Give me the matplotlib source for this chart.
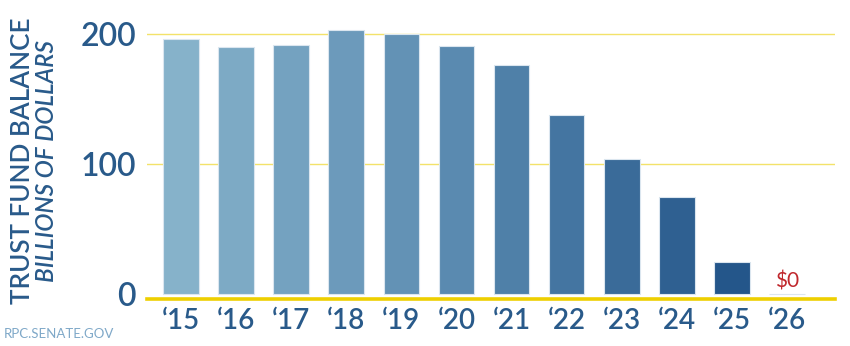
import matplotlib.pyplot as plt
import numpy as np
from matplotlib.colors import LinearSegmentedColormap

# 数据
years = ['\u201815', '\u201816', '\u201817', '\u201818', '\u201819', '\u201820',
         '\u201821', '\u201822', '\u201823', '\u201824', '\u201825', '\u201826']
balance = [196, 190, 191.5, 203, 200, 191, 176, 138, 104, 75, 24.5, 0]
y_ticks = [0, 100, 200]

text_blue = '#295a8a'
plt.rcParams['font.family'] = ['Lato', 'DejaVu Sans']

fig = plt.figure(figsize=(8.5, 3.46), dpi=100)
ax = fig.add_axes([0.173, 0.135, 0.809, 0.823])

cmap = LinearSegmentedColormap.from_list('rpc', ['#86b2ca', '#5a8ab0', '#24568a'])
x = np.arange(len(years))
colors = [cmap(i / (len(years) - 2)) for i in range(len(years))]
ax.bar(x, balance, width=0.65, color=colors, edgecolor='#dbe6ef', linewidth=0.8, zorder=3)

ax.set_xlim(-0.62, 11.87)
ax.set_ylim(-4, 215)

# 网格线和底线
for v in y_ticks[1:]:
    ax.axhline(v, color='#f3e26a', linewidth=1, zorder=1)
ax.axhline(-4, color='#eecf00', linewidth=2.6, zorder=4, clip_on=False)

ax.set_yticks(y_ticks)
ax.set_yticklabels([str(v) for v in y_ticks], fontsize=23, color=text_blue, fontweight='semibold')
ax.set_xticks(x)
ax.set_xticklabels(years, fontsize=20, color=text_blue, fontweight='semibold')
ax.tick_params(axis='both', length=0)
ax.tick_params(axis='y', pad=8)
ax.tick_params(axis='x', pad=6)
for s in ax.spines.values():
    s.set_visible(False)

ax.text(x[-1], 2, '$0', ha='center', va='bottom', fontsize=15, color='#c0282d')

fig.text(0.026, 0.534, 'TRUST FUND BALANCE', rotation=90, ha='center', va='center',
         fontsize=18.7, color=text_blue, fontweight='semibold')
fig.text(0.055, 0.534, 'BILLIONS OF DOLLARS', rotation=90, ha='center', va='center',
         fontsize=17.5, color=text_blue, style='italic', fontweight='semibold')
fig.text(0.004, 0.035, 'RPC.SENATE.GOV', ha='left', va='center', fontsize=9.5, color='#7fa8c8')

plt.savefig('out.png', dpi=100)
